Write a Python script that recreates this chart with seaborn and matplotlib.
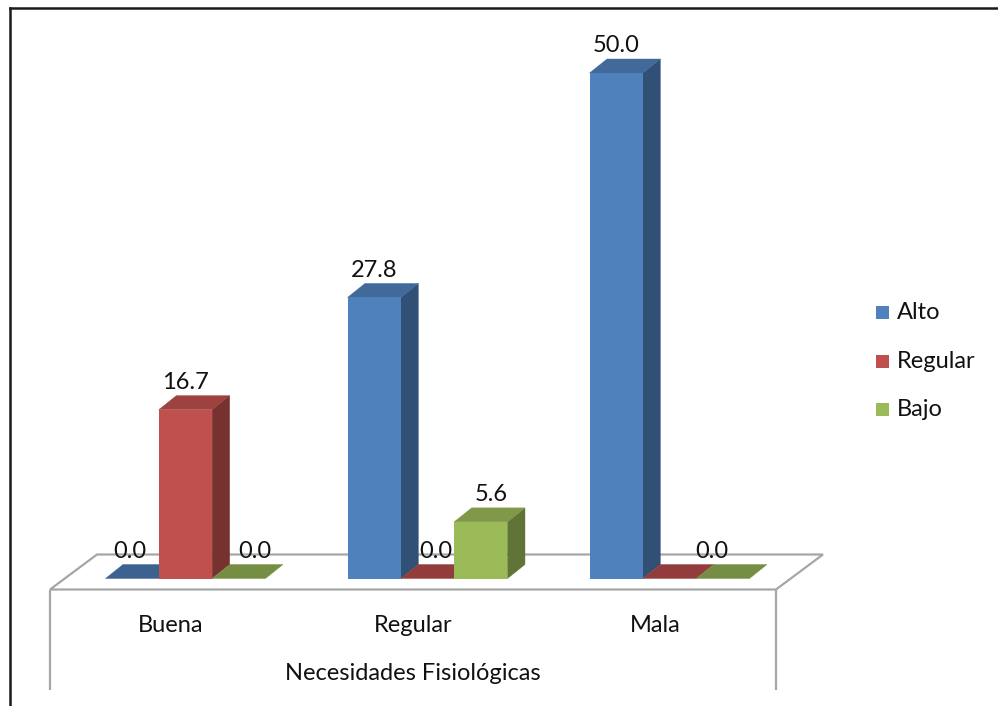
import matplotlib
matplotlib.use("Agg")
import matplotlib.pyplot as plt
from matplotlib.patches import Polygon, Rectangle
from matplotlib.lines import Line2D
from matplotlib.colors import to_rgb
import seaborn as sns
import pandas as pd

# ---- data -------------------------------------------------------------
categories = ["Buena", "Regular", "Mala"]
series = ["Alto", "Regular", "Bajo"]
alto = [0.0, 27.8, 50.0]
regular = [16.7, 0.0, 0.0]
bajo = [0.0, 5.6, 0.0]
axis_title = "Necesidades Fisiológicas"

colors = ["#4F81BD", "#C0504D", "#9BBB59"]

# label tweaks (pixels) so the zero labels sit where they read best
label_shift = {("Buena", "Alto"): -2, ("Buena", "Bajo"): 16,
               ("Regular", "Regular"): 8, ("Regular", "Bajo"): 10,
               ("Mala", "Bajo"): -11}
hidden_labels = {("Mala", "Regular")}

df = pd.DataFrame({
    "cat": categories * 3,
    "serie": [s for s in series for _ in categories],
    "val": alto + regular + bajo,
})

plt.rcParams["font.family"] = ["Lato", "DejaVu Sans"]
FS = 17

W, H = 998, 706
fig = plt.figure(figsize=(W / 100, H / 100), dpi=100)
ax = fig.add_axes([0, 0, 1, 1])

sns.barplot(data=df, x="cat", y="val", hue="serie", order=categories,
            hue_order=series, palette=colors, width=0.661, ax=ax,
            legend=False, saturation=1, linewidth=0, zorder=3)

# pixel geometry of the plotting scale
PXX = 242.0          # pixels per category step
PXY = 10.11          # pixels per percentage unit
X0 = 185.5           # pixel x of the first category
Y0 = 578.5           # pixel y (from top) of the baseline
ax.set_xlim(-X0 / PXX, (W - X0) / PXX)
ax.set_ylim(-(H - Y0) / PXY, Y0 / PXY)
ax.axis("off")

def shade(c, f):
    r, g, b = to_rgb(c)
    return (r * f, g * f, b * f)

# 3-D depth of a bar
ddx = 17.5 / PXX
ddy = 14.0 / PXY

# floor slab
n = len(categories)
fx_front, fy_front = -0.06, -11.0 / PXY
fx_back, fy_back = -0.06 + 47.0 / PXX, 24.0 / PXY
floor = [(-0.5 + fx_front, fy_front), (n - 0.5 + fx_front, fy_front),
         (n - 0.5 + fx_back, fy_back), (-0.5 + fx_back, fy_back)]
ax.add_patch(Polygon(floor, closed=True, facecolor="white",
                     edgecolor="#A6A6A6", lw=1.6, zorder=1))
y_bottom = -(690 - Y0) / PXY
for xe in (-0.5 + fx_front, n - 0.5 + fx_front):
    ax.plot([xe, xe], [fy_front, y_bottom], color="#A6A6A6", lw=1.6,
            zorder=1, solid_capstyle="butt")

# side and top faces of every bar, plus value labels
for serie, cont, col in zip(series, ax.containers, colors):
    for cat, bar in zip(categories, cont.patches):
        x, w, h = bar.get_x(), bar.get_width(), bar.get_height()
        if h > 0:
            ax.add_patch(Polygon([(x + w, 0), (x + w + ddx, ddy),
                                  (x + w + ddx, h + ddy), (x + w, h)],
                                 closed=True, facecolor=shade(col, 0.62),
                                 edgecolor=shade(col, 0.62), lw=0.3, zorder=2))
        top = shade(col, 0.82 if h > 0 else 0.76)
        ax.add_patch(Polygon([(x, h), (x + ddx, h + ddy),
                              (x + w + ddx, h + ddy), (x + w, h)],
                             closed=True, facecolor=top, edgecolor=top,
                             lw=0.3, zorder=2))
        if (cat, serie) in hidden_labels:
            continue
        sx = label_shift.get((cat, serie), 0) / PXX
        ax.text(x + w / 2 + sx, h + ddy + 6.5 / PXY, f"{h:.1f}",
                ha="center", va="baseline", fontsize=FS, color="#111111",
                zorder=4)

# category labels and axis title under the floor
for i, cat in enumerate(categories):
    ax.text(i + fx_front, -(625 - Y0) / PXY, cat, ha="center", va="center",
            fontsize=FS, color="#111111")
ax.text((n - 1) / 2 + fx_front, -(673 - Y0) / PXY, axis_title,
        ha="center", va="center", fontsize=FS, color="#111111")

# legend
for k, (s, c) in enumerate(zip(series, colors)):
    yc = 312.5 + k * 48.7
    fig.patches.append(Rectangle((876 / W, 1 - (yc + 6.5) / H), 13 / W,
                                 13 / H, transform=fig.transFigure,
                                 facecolor=c, edgecolor="none"))
    fig.text(897 / W, 1 - yc / H, s, ha="left", va="center", fontsize=FS,
             color="#111111")

# chart frame
fig.add_artist(Line2D([10 / W, 1], [1 - 8 / H, 1 - 8 / H],
                      transform=fig.transFigure, color="#1A1A1A", lw=1.8))
fig.add_artist(Line2D([10 / W, 10 / W], [0, 1 - 8 / H],
                      transform=fig.transFigure, color="#1A1A1A", lw=1.8))

fig.savefig("out.png", dpi=100, facecolor="white")
